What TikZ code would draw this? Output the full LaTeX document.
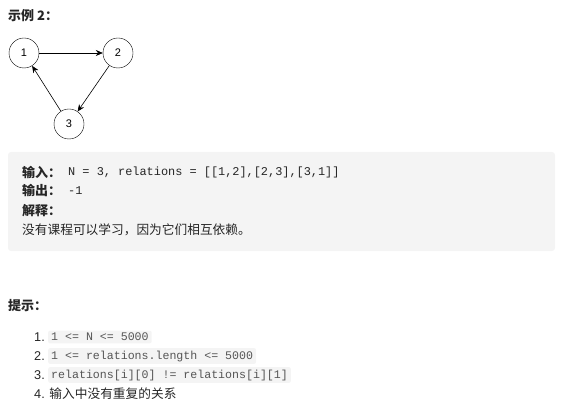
\documentclass[tikz,border=0pt]{standalone}
\usepackage{fontspec}
\setmainfont{Liberation Sans}
\setmonofont{Liberation Mono}
\newfontfamily\cjk{Noto Sans CJK SC}
\usetikzlibrary{arrows.meta,positioning}
\definecolor{txtgray}{HTML}{262626}
\definecolor{boxgray}{HTML}{F4F4F4}
\definecolor{codegray}{HTML}{555555}
\tikzset{
  vert/.style={draw,circle,minimum size=30pt,inner sep=0pt,font=\fontsize{11}{13}\selectfont},
  edge/.style={-{Stealth[length=7pt,width=6pt]},semithick},
  line/.style={anchor=west,inner sep=0pt,text=txtgray,font=\fontsize{12.7}{15}\selectfont},
  code/.style={anchor=west,inner sep=0pt,text=txtgray,font=\ttfamily\fontsize{11.9}{14}\selectfont},
  hint/.style={anchor=west,fill=boxgray,rounded corners=2pt,inner xsep=3pt,inner ysep=2.5pt,text=codegray,font=\ttfamily\fontsize{11.6}{14}\selectfont}
}
\begin{document}
\begin{tikzpicture}[x=1pt,y=-1pt]
          \useasboundingbox (0,0) rectangle (569,411);
          \node [line,font=\cjk\bfseries\fontsize{13}{15}\selectfont] (title) at (8,16) {示例 2：};
          \node [vert] (1) at (24,53) {1};
          \node [vert] (2) at (118,53) {2};
          \node [vert] (3) at (69,124) {3};
          \draw [edge] (1) -- (2);
          \draw [edge] (2) -- (3);
          \draw [edge] (3) -- (1);
          % example box
          \fill [boxgray,rounded corners=3pt] (8,152) rectangle (555,251);
          \node [line,font=\cjk\bfseries\fontsize{13}{15}\selectfont] (in) at (22,172) {输入：};
          \node [code] (inv) at (68,172) {N = 3, relations = [[1,2],[2,3],[3,1]]};
          \node [line,font=\cjk\bfseries\fontsize{13}{15}\selectfont] (out) at (22,191) {输出：};
          \node [code] (outv) at (68,191) {-1};
          \node [line,font=\cjk\bfseries\fontsize{13}{15}\selectfont] (expl) at (22,211) {解释：};
          \node [line,font=\cjk\fontsize{12.7}{15}\selectfont] (why) at (22,230) {没有课程可以学习，因为它们相互依赖。};
          % hints
          \node [line,font=\cjk\bfseries\fontsize{13}{15}\selectfont] (tips) at (8,306) {提示：};
          \node [line] (n1) at (34,337) {1.};
          \node [hint] (h1) at (48,337) {1 <= N <= 5000};
          \node [line] (n2) at (34,356) {2.};
          \node [hint] (h2) at (48,356) {1 <= relations.length <= 5000};
          \node [line] (n3) at (34,375) {3.};
          \node [hint] (h3) at (48,375) {relations[i][0] != relations[i][1]};
          \node [line] (n4) at (34,394) {4. {\cjk 输入中没有重复的关系}};
        \end{tikzpicture}
\end{document}
